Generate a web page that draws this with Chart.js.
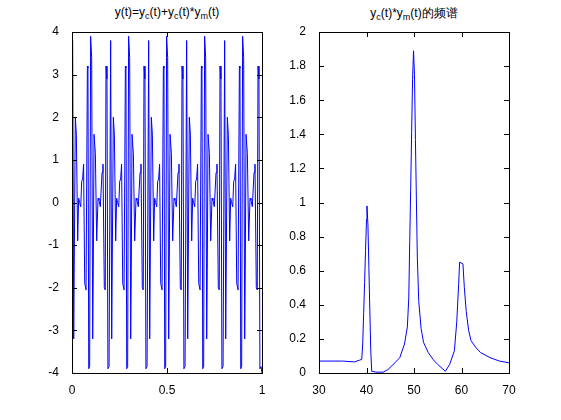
<!DOCTYPE html>
<html>
<head>
<meta charset="utf-8">
<script src="https://cdn.jsdelivr.net/npm/chart.js@4"></script>
<style>
  body { margin: 0; background: #fff; width: 561px; height: 420px; position: relative; overflow: hidden; font-family: "Liberation Sans", Arial, sans-serif; }
  canvas { position: absolute; top: 0; }
  .title { position: absolute; top: 5px; font-size: 12px; color: #000; text-align: center; white-space: nowrap; transform: translateX(-50%); }
  .title sub { font-size: 9px; vertical-align: -3px; }
</style>
</head>
<body>
<div class="title" style="left:167px">y(t)=y<sub>c</sub>(t)+y<sub>c</sub>(t)*y<sub>m</sub>(t)</div>
<div class="title" style="left:414px">y<sub>c</sub>(t)*y<sub>m</sub>(t)的频谱</div>
<canvas id="timeChart" style="left:0" width="280" height="420"></canvas>
<canvas id="specChart" style="left:280px" width="281" height="420"></canvas>
<script>
// one period (0.2 s) of the waveform
const periodT = [0.0035, 0.009, 0.0175, 0.023, 0.030, 0.035, 0.040, 0.046, 0.051, 0.056, 0.061, 0.067, 0.074, 0.081, 0.084, 0.088, 0.093, 0.098, 0.1035, 0.109, 0.112, 0.116, 0.123, 0.130, 0.137, 0.142, 0.149, 0.158, 0.163, 0.170, 0.175, 0.179, 0.184, 0.189, 0.195];
const periodY = [3.8, -3.2, 2.0, 1.6, -0.9, 0.1, 0.0, -0.1, 0.5, 0.55, 0.9, -1.9, -2.05, 3.2, 3.15, -3.9, -3.85, 3.9, 3.4, -3.2, -1.6, 1.6, 1.15, -0.9, 0.1, 0.05, -0.1, 0.7, 0.9, -2.0, -2.05, 3.2, 2.9, -3.9, -3.85];
const periodCount = 5;

// spectrum of yc(t)*ym(t)
const freqs = [30, 35, 37.5, 38.5, 39, 39.2, 39.4, 39.6, 39.8, 40.0, 40.1, 40.3, 40.5, 40.7, 40.9, 41.1, 42, 43.5, 44.5, 46, 47, 48, 48.6, 48.9, 49.1, 49.3, 49.5, 49.7, 49.9, 50.1, 50.3, 50.5, 50.7, 51, 51.5, 52, 53, 54, 55, 56.6, 57.5, 58.5, 59, 59.4, 59.6, 60.3, 60.6, 61, 61.5, 62, 63, 64, 66, 68, 70];
const amps = [0.07, 0.07, 0.065, 0.075, 0.08, 0.17, 0.35, 0.53, 0.72, 0.9, 0.98, 0.87, 0.62, 0.37, 0.13, 0.01, 0.005, 0.005, 0.02, 0.06, 0.09, 0.17, 0.27, 0.44, 0.77, 1.08, 1.41, 1.72, 1.89, 1.75, 1.37, 1.02, 0.68, 0.42, 0.26, 0.18, 0.12, 0.08, 0.05, 0.01, 0.05, 0.13, 0.3, 0.52, 0.65, 0.64, 0.5, 0.36, 0.25, 0.19, 0.15, 0.12, 0.09, 0.07, 0.06];

const timePoints = [];
for (let k = 0; k < periodCount; k++) {
    periodT.forEach((t, i) => timePoints.push({ x: k * 0.2 + t, y: periodY[i] }));
}
timePoints.push({ x: 1, y: -4 });
const specPoints = freqs.map((f, i) => ({ x: f, y: amps[i] }));

const font = { family: '"Liberation Sans", Arial, sans-serif', size: 12 };
const plain = v => String(+Number(v).toFixed(2));

// MATLAB style box with inward ticks
const boxTicks = {
    id: 'boxTicks',
    afterDraw(chart) {
        const { ctx, chartArea: a, scales } = chart;
        ctx.save();
        ctx.strokeStyle = '#000';
        ctx.lineWidth = 1;
        ctx.strokeRect(a.left + 0.5, a.top + 0.5, a.right - a.left, a.bottom - a.top);
        ctx.beginPath();
        scales.x.ticks.forEach(t => {
            const px = Math.round(scales.x.getPixelForValue(t.value)) + 0.5;
            ctx.moveTo(px, a.bottom); ctx.lineTo(px, a.bottom - 5);
            ctx.moveTo(px, a.top); ctx.lineTo(px, a.top + 5);
        });
        scales.y.ticks.forEach(t => {
            const py = Math.round(scales.y.getPixelForValue(t.value)) + 0.5;
            ctx.moveTo(a.left, py); ctx.lineTo(a.left + 5, py);
            ctx.moveTo(a.right, py); ctx.lineTo(a.right - 5, py);
        });
        ctx.stroke();
        ctx.restore();
    }
};

function makeChart(id, points, xr, yr, yAxisW, padRight) {
    return new Chart(document.getElementById(id).getContext('2d'), {
        type: 'line',
        data: { datasets: [{ data: points, borderColor: 'rgb(0,0,255)', borderWidth: 1, pointRadius: 0, tension: 0, fill: false }] },
        options: {
            responsive: false,
            animation: false,
            layout: { padding: { top: 32, right: padRight, left: 0, bottom: 0 } },
            plugins: { legend: { display: false }, tooltip: { enabled: false } },
            scales: {
                x: {
                    type: 'linear', min: xr[0], max: xr[1],
                    ticks: { stepSize: xr[2], color: '#000', font: font, maxRotation: 0, padding: 2, callback: plain },
                    grid: { display: false }, border: { display: false },
                    afterFit: s => { s.height = 47; }
                },
                y: {
                    min: yr[0], max: yr[1],
                    ticks: { stepSize: yr[2], color: '#000', font: font, padding: 5, callback: plain },
                    grid: { display: false }, border: { display: false },
                    afterFit: s => { s.width = yAxisW; }
                }
            }
        },
        plugins: [boxTicks]
    });
}

makeChart('timeChart', timePoints, [0, 1, 0.5], [-4, 4, 1], 72, 18);
makeChart('specChart', specPoints, [30, 70, 10], [0, 2, 0.2], 39, 52);
</script>
</body>
</html>
